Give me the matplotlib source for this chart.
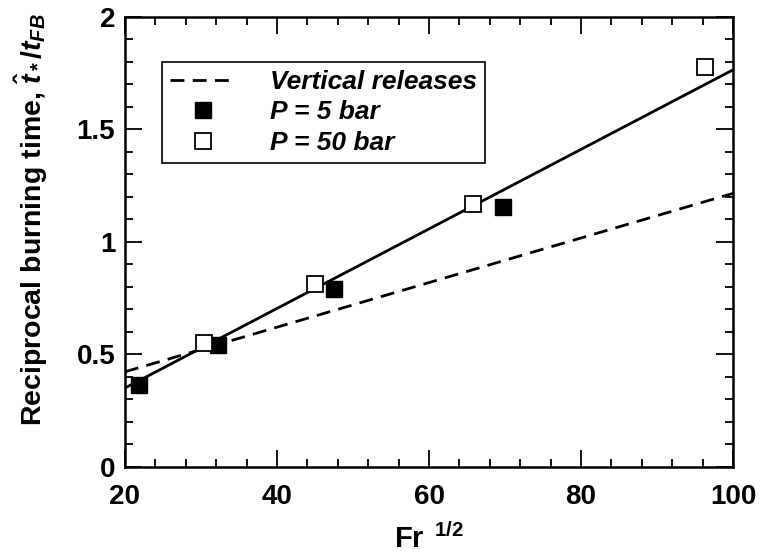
import matplotlib
matplotlib.use("Agg")
import matplotlib.pyplot as plt
import numpy as np

# data
fr_5bar = [21.8, 32.2, 47.5, 69.7]
tb_5bar = [0.363, 0.544, 0.79, 1.157]
fr_50bar = [30.4, 45.0, 65.8, 96.3]
tb_50bar = [0.553, 0.815, 1.167, 1.779]

# fitted lines (end points)
fit_x = [20, 100]
fit_all = [0.351, 1.765]
fit_vertical = [0.423, 1.216]

plt.rcParams['font.family'] = 'Liberation Sans'
plt.rcParams['font.weight'] = 'bold'
plt.rcParams['axes.labelweight'] = 'bold'
plt.rcParams['mathtext.fontset'] = 'custom'
plt.rcParams['mathtext.rm'] = 'Liberation Sans:bold'
plt.rcParams['mathtext.it'] = 'Liberation Sans:bold:italic'
plt.rcParams['mathtext.bf'] = 'Liberation Sans:bold'

fig = plt.figure(figsize=(7.62, 5.57), dpi=100)
ax = fig.add_axes([0.164, 0.1616, 0.798, 0.808])

ax.plot(fit_x, fit_vertical, 'k', lw=2, dashes=(5, 3), label='Vertical releases')
ax.plot(fit_x, fit_all, 'k-', lw=2)
ax.plot(fr_5bar, tb_5bar, 's', color='k', ms=11, ls='none', label='P = 5 bar')
ax.plot(fr_50bar, tb_50bar, 's', mfc='white', mec='k', mew=1.3, ms=11, ls='none',
        label='P = 50 bar')

ax.set_xlim(20, 100)
ax.set_ylim(0, 2)
ax.set_xticks([20, 40, 60, 80, 100])
ax.set_yticks([0, 0.5, 1, 1.5, 2])
ax.set_yticklabels(['0', '0.5', '1', '1.5', '2'])
ax.set_xticks(np.arange(20, 101, 4), minor=True)
ax.set_yticks(np.arange(0, 2.01, 0.1), minor=True)
ax.tick_params(which='both', direction='in', top=True, right=True, width=1.3,
               labelsize=20)
ax.tick_params(which='major', length=12)
ax.tick_params(axis='x', which='major', pad=12)
ax.tick_params(axis='y', which='major', pad=7)
ax.tick_params(which='minor', length=6)
for s in ax.spines.values():
    s.set_linewidth(1.8)

ax.set_xlabel(r'Fr $^{\,1/2}$', fontsize=21, labelpad=10)
ax.set_ylabel(r'Reciprocal burning time, $\hat{t}_*/t_{FB}$', fontsize=20.5, labelpad=19)
ax.yaxis.label.set_y(0.55)

leg = ax.legend(loc='upper left', bbox_to_anchor=(0.061, 0.9), borderaxespad=0,
                fancybox=False, edgecolor='k', framealpha=1,
                prop={'style': 'italic', 'weight': 'bold', 'size': 19},
                handlelength=2.5, labelspacing=0.25, borderpad=0.3,
                handletextpad=1.3)
leg.get_frame().set_linewidth(1.2)

fig.savefig('out.png', dpi=100)
